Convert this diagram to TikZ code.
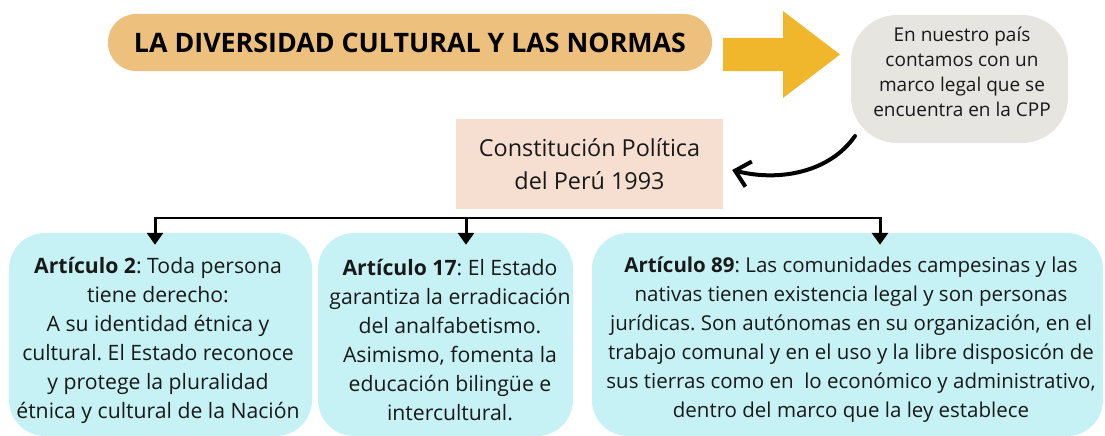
\documentclass[tikz,border=0pt]{standalone}
\usepackage{fontspec}
\setmainfont{Open Sans}
\usetikzlibrary{arrows.meta}
\definecolor{pillc}{RGB}{237,193,125}
\definecolor{arrowc}{RGB}{240,183,45}
\definecolor{greyc}{RGB}{230,229,224}
\definecolor{peachc}{RGB}{246,223,209}
\definecolor{cyanc}{RGB}{198,242,245}
\definecolor{txtc}{RGB}{25,25,25}
\tikzset{
  artbox/.style={fill=cyanc, draw=none, rounded corners=36pt, minimum height=203pt, inner sep=0pt},
  arttext/.style={align=center, text=txtc, inner sep=0pt, font=\fontsize{21.2}{29}\selectfont},
  drop/.style={line width=3pt, -{Triangle[length=12pt,width=16pt]}},
}
\frenchspacing
\begin{document}
\begin{tikzpicture}[x=1pt,y=-1pt]
\useasboundingbox (0,0) rectangle (1105,436);
% title pill
\node[fill=pillc, rounded corners=28pt, minimum width=604pt, minimum height=57pt, inner sep=0pt,
      font=\fontsize{26.8}{30}\selectfont\bfseries, text=black] (title) at (410,42.5) {LA DIVERSIDAD CULTURAL Y LAS NORMAS};
% big yellow arrow
\fill[arrowc] (723,38) -- (783,38) -- (783,11) -- (840,54.5) -- (783,98) -- (783,71) -- (723,71) -- cycle;
% grey rounded box
\node[fill=greyc, rounded corners=46pt, minimum width=217pt, minimum height=128pt, inner sep=0pt] (cppbox) at (959.5,79) {};
\node[align=center, text=txtc, inner sep=0pt, font=\fontsize{19}{25}\selectfont] (cpptext) at (962,72)
  {En nuestro país\\contamos con un\\marco legal que se\\encuentra en la CPP};
% constitution box
\node[fill=peachc, minimum width=267pt, minimum height=90pt, inner sep=0pt, align=center, text=txtc,
      font=\fontsize{23.4}{33}\selectfont] (const) at (589.5,164) {Constitución Política\\del Perú 1993};
% curved arrow
\coordinate (cs) at (855,136);
\coordinate (ce) at ([shift={(9,6)}]const.east);
\draw[line width=4pt, line cap=round, -{Straight Barb[length=14pt,width=26pt,line width=4pt]}]
  (cs) .. controls (830,172) and (780,182) .. (ce);
% article boxes
\node[artbox, minimum width=303pt] (b1) at (160.5,334.5) {};
\node[artbox, minimum width=255pt] (b2) at (445.5,334.5) {};
\node[artbox, minimum width=511pt] (b3) at (847.5,334.5) {};
\node[arttext] (t1) at (158,340) {\textbf{Artículo 2}: Toda persona\\tiene derecho:\\A su identidad étnica y\\cultural. El Estado reconoce\\y protege la pluralidad\\étnica y cultural de la Nación};
\node[arttext] (t2) at (450,340) {\textbf{Artículo 17}: El Estado\\garantiza la erradicación\\del analfabetismo.\\Asimismo, fomenta la\\educación bilingüe e\\intercultural.};
\node[arttext, font=\fontsize{20.5}{29}\selectfont] (t3) at (851,340) {\textbf{Artículo 89}: Las comunidades campesinas y las\\nativas tienen existencia legal y son personas\\jurídicas. Son autónomas en su organización, en el\\trabajo comunal y en el uso y la libre disposicón de\\sus tierras como en\ \ lo económico y administrativo,\\dentro del marco que la ley establece};
% connectors
\coordinate (j1) at (155,218);
\coordinate (j2) at (466,218);
\coordinate (j3) at (880,218);
\draw[line width=2pt] ([xshift=-1.5pt]j1) -- ([xshift=1.5pt]j3);
\draw[drop] (j1) -- ([yshift=-12pt]b1.north -| j1);
\draw[drop] (j2) -- ([yshift=-12pt]b2.north -| j2);
\draw[drop] (j3) -- ([yshift=-12pt]b3.north -| j3);
\end{tikzpicture}
\end{document}
